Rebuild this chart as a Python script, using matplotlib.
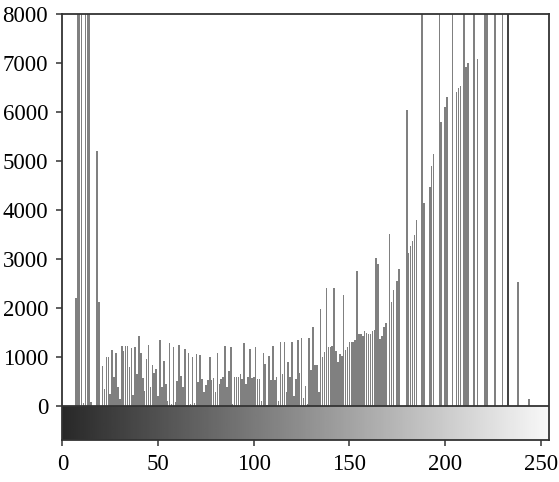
import numpy as np
import matplotlib
matplotlib.use('Agg')
import matplotlib.pyplot as plt

# Contagem por nível de cinza (0-255); 9000 = barra cortada no topo
counts_dark = [0, 0, 0, 0, 0, 0, 0, 2200, 9000, 9000, 9000, 60, 9000, 9000, 9000, 80,
               0, 0, 5200, 2120, 0, 820, 350, 1000, 1000, 250, 1140, 600, 1080, 400, 150, 1230,
               1130, 1230, 1230, 800, 1180, 220, 1200, 650, 1430, 1080, 580, 310, 960, 1240, 400, 840,
               670, 750, 200, 1350, 390, 920, 460, 100, 1280, 50, 1210, 80, 520, 1240, 610, 400]
counts_mid = [1160, 30, 1080, 40, 1000, 60, 1070, 500, 1040, 550, 300, 430, 530, 1000, 530, 580,
              300, 1080, 460, 560, 590, 1230, 400, 720, 1210, 40, 590, 590, 600, 650, 550, 1290,
              460, 590, 1160, 570, 590, 1210, 560, 550, 100, 1090, 860, 30, 1030, 530, 1220, 530,
              590, 100, 1300, 650, 1310, 290, 900, 600, 1300, 200, 550, 1350, 680, 1390, 160, 410]
counts_light = [50, 1400, 730, 1620, 840, 840, 300, 1990, 1010, 1110, 2420, 1210, 1200, 1230, 2420, 1120,
                900, 1060, 1020, 2260, 1140, 1200, 1300, 1300, 1310, 1350, 2750, 1470, 1470, 1430, 1530, 1500,
                1470, 1470, 1530, 1550, 3020, 2900, 1380, 1430, 1610, 1700, 0, 3510, 2120, 2370, 0, 2550,
                2790, 0, 0, 0, 6040, 3120, 3260, 3380, 3500, 3800, 0, 0, 9000, 4140, 0, 0]
counts_bright = [4470, 4900, 5150, 0, 0, 9000, 5800, 0, 6100, 6300, 0, 0, 9000, 0, 6410, 6490,
                 6530, 0, 9000, 6920, 7000, 0, 0, 9000, 0, 7080, 0, 0, 0, 9000, 9000, 0,
                 0, 0, 9000, 0, 0, 0, 9000, 0, 0, 9000, 0, 0, 0, 0, 2530, 0,
                 0, 0, 0, 0, 150, 0, 0, 0, 0, 0, 0, 0, 0, 0, 0, 0]

x_ticks = [0, 50, 100, 150, 200, 250]
y_ticks = [0, 1000, 2000, 3000, 4000, 5000, 6000, 7000, 8000]

counts = np.array(counts_dark + counts_mid + counts_light + counts_bright)
levels = np.arange(len(counts))

plt.rcParams['font.family'] = ['Liberation Serif', 'DejaVu Serif']

fig = plt.figure(figsize=(5.59, 4.82), dpi=100)
ax = fig.add_axes([0.111, 0.087, 0.871, 0.884])

cores = ['#444444' if n == 233 else '#808080' for n in levels]
ax.bar(levels, counts, width=0.8, color=cores, linewidth=0, zorder=2)

# Barra de gradiente abaixo do zero
xmax = 254.3
ymin = -690
grad = np.linspace(0.16, 0.97, 256).reshape(1, -1)
ax.imshow(grad, cmap='gray', vmin=0, vmax=1, aspect='auto',
          extent=[0, xmax, ymin, 0], zorder=1)
ax.axhline(0, color='#333333', lw=1.3, zorder=3)

ax.set_xlim(-0.2, xmax)
ax.set_ylim(ymin, 8000)
ax.set_xticks(x_ticks)
ax.set_yticks(y_ticks)
ax.tick_params(direction='out', length=4, width=1.1, color='#333333',
               labelsize=16.5, pad=6)
for s in ax.spines.values():
    s.set_color('#333333')
    s.set_linewidth(1.3)

fig.savefig('out.png', dpi=100)
